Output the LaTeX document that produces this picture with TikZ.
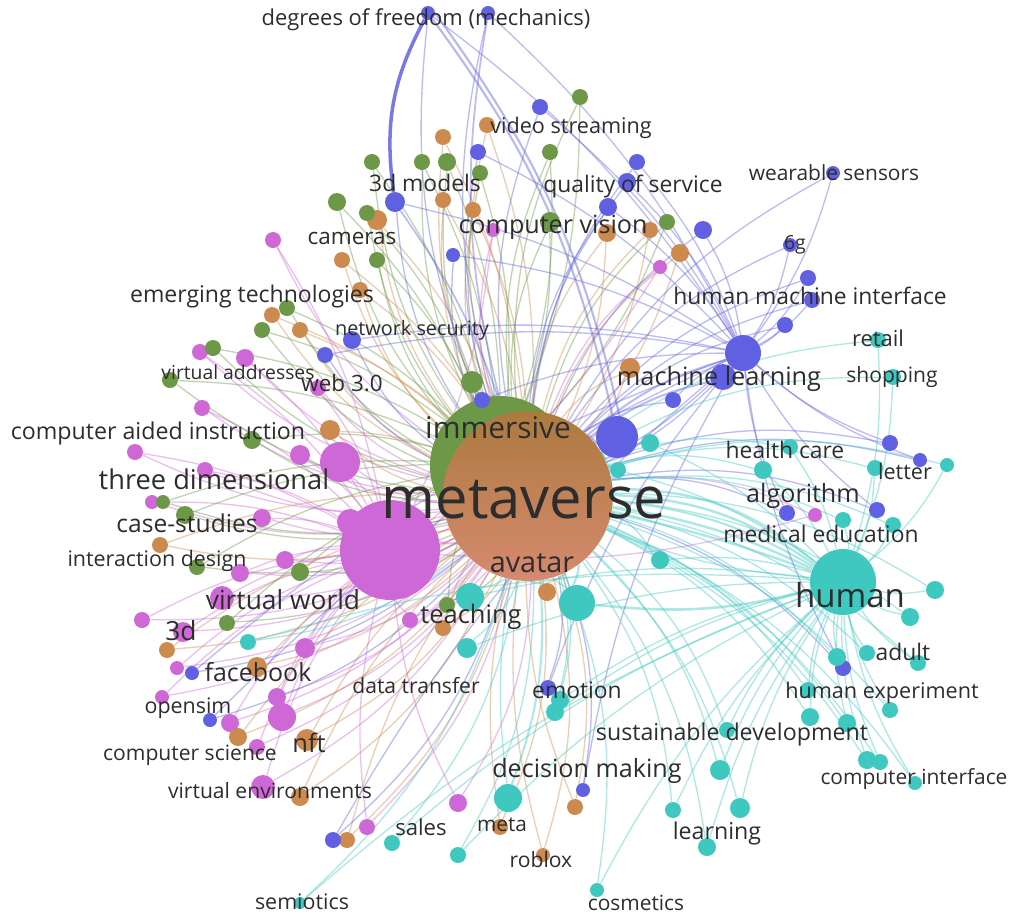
\documentclass[tikz,border=0pt]{standalone}
\usepackage{fontspec}
\setmainfont{Open Sans}
\usetikzlibrary{positioning}
\pgfdeclarelayer{background}
\pgfsetlayers{background,main}

\definecolor{pk}{RGB}{206,104,214}
\definecolor{or}{RGB}{205,138,78}
\definecolor{gr}{RGB}{108,152,72}
\definecolor{bl}{RGB}{96,96,226}
\definecolor{cy}{RGB}{62,200,192}
\definecolor{txt}{RGB}{45,45,45}

\tikzset{
  dot/.style={circle, fill=#1, inner sep=0pt},
  link/.style={draw=#1, opacity=0.42, line width=0.75pt},
  lab/.style={font=\fontsize{#1}{#1}\selectfont, text=txt, inner sep=0pt}
}

\begin{document}
\begin{tikzpicture}[x=0.02cm, y=-0.02cm]
\useasboundingbox (0,0) rectangle (1012,914);

% big clusters
\node[dot=gr, minimum size=2.8cm] (im) at (500,466) {};
\node[dot=pk, minimum size=2cm] (pw) at (390,550) {};
\node[circle, inner sep=0pt, minimum size=3.4cm, top color={rgb,255:red,172;green,122;blue,62}, bottom color={rgb,255:red,214;green,138;blue,112}] (mv) at (528,496) {};
\node[dot=bl, minimum size=0.84cm] (bh) at (617,437) {};
\node[dot=bl, minimum size=0.72cm] (ml) at (743,353) {};
\node[dot=bl, minimum size=0.52cm] (ml2) at (723,377) {};
\node[dot=cy, minimum size=1.32cm] (hu) at (843,582) {};
\node[dot=cy, minimum size=0.72cm] (tc) at (577,603) {};
\node[dot=cy, minimum size=0.56cm] (dm) at (508,798) {};

\begin{pgfonlayer}{background}
\foreach \h/\c in {bh/bl, ml/bl, ml2/bl, hu/cy, tc/cy, dm/cy, pw/pk, im/gr}{
  \draw[link=\c, line width=1.2pt] (mv) to[bend left=12] (\h);
  \draw[link=\c] (mv) to[bend right=8] (\h);
}
\foreach \a in {4,8,16,20}
  \draw[link=cy, line width=1.4pt] (mv) to[bend left=\a] (hu);
\draw[link=cy, line width=1.5pt] (tc) to[bend right=10] (hu);
\end{pgfonlayer}

% pink
\foreach \n/\x/\y/\r in {p1/273/240/8, p2/200/352/8, p3/245/358/9, p4/202/408/8, p5/135/452/8,
  p6/152/502/7, p7/240/573/9, p8/142/620/8, p9/183/632/10, p10/177/668/7, p11/162/697/7,
  p12/230/723/9, p13/282/717/14, p14/277/697/9, p15/257/747/8, p16/263/787/12, p17/458/803/9,
  p18/367/827/8, p19/410/620/8, p20/493/230/7, p21/660/267/7, p22/340/462/20, p23/300/455/10,
  p24/262/518/9, p25/222/598/12, p26/305/648/10, p27/350/522/13, p28/815/515/7, p29/318/388/8,
  p30/205/470/8, p31/285/560/9}{
  \node[dot=pk, minimum size=\r*0.04cm] (\n) at (\x,\y) {};
  \begin{pgfonlayer}{background}
    \draw[link=pk] (mv) to[bend left=15] (\n);
    \draw[link=pk] (pw) to[bend right=10] (\n);
  \end{pgfonlayer}
}

% orange
\foreach \n/\x/\y/\r in {o1/272/315/8, o2/160/545/8, o3/167/650/8, o4/257/667/10, o5/238/737/9,
  o6/307/740/11, o7/300/797/9, o8/347/840/8, o9/500/827/8, o10/543/855/7, o11/443/628/8,
  o12/575/807/8, o13/487/125/8, o14/443/137/8, o15/377/220/10, o16/443/200/8, o17/473/210/8,
  o18/607/233/9, o19/650/230/8, o20/680/253/9, o21/342/260/8, o22/630/368/10, o23/330/430/10,
  o24/547/592/9, o25/300/330/8, o26/360/290/8}{
  \node[dot=or, minimum size=\r*0.04cm] (\n) at (\x,\y) {};
  \begin{pgfonlayer}{background}
    \draw[link=or] (mv) to[bend left=15] (\n);
    \draw[link=or] (mv) to[bend right=10] (\n);
  \end{pgfonlayer}
}

% green
\foreach \n/\x/\y/\r in {g1/213/348/8, g2/170/380/8, g3/252/440/9, g4/163/502/7, g5/185/515/9,
  g6/197/567/8, g7/287/308/8, g8/227/623/8, g9/447/605/8, g10/580/97/8, g11/550/152/8,
  g12/372/162/8, g13/422/162/8, g14/447/162/9, g15/480/173/8, g16/337/202/9, g17/367/213/8,
  g18/550/222/10, g19/667/222/8, g20/377/260/8, g21/262/330/8, g22/472/382/11, g23/300/572/9}{
  \node[dot=gr, minimum size=\r*0.04cm] (\n) at (\x,\y) {};
  \begin{pgfonlayer}{background}
    \draw[link=gr] (mv) to[bend left=15] (\n);
    \draw[link=gr] (im) to[bend right=10] (\n);
  \end{pgfonlayer}
}

% blue
\foreach \n/\x/\y/\r in {b1/428/13/7, b2/488/13/7, b3/540/107/8, b4/478/152/8, b5/637/162/8,
  b6/395/202/10, b7/608/207/9, b8/627/182/9, b9/703/230/9, b10/453/255/7, b11/833/173/7,
  b12/790/245/7, b13/808/278/8, b14/812/300/8, b15/785/325/8, b16/673/400/8, b17/890/443/8,
  b18/920/460/7, b19/787/513/8, b20/877/510/8, b21/843/668/8, b22/583/790/7, b23/192/673/7,
  b24/210/720/7, b25/333/840/8, b26/352/340/9, b27/325/355/8, b28/548/688/8, b29/482/400/8}{
  \node[dot=bl, minimum size=\r*0.04cm] (\n) at (\x,\y) {};
  \begin{pgfonlayer}{background}
    \draw[link=bl] (mv) to[bend left=15] (\n);
    \draw[link=bl] (ml) to[bend right=10] (\n);
  \end{pgfonlayer}
}

% cyan
\foreach \n/\x/\y/\r in {c1/878/340/8, c2/893/377/8, c3/650/443/9, c4/790/447/8, c5/947/465/7,
  c6/875/468/8, c7/763/470/9, c8/843/520/8, c9/893/525/8, c10/660/560/9, c11/910/617/9,
  c12/918/663/8, c13/837/657/9, c14/867/653/8, c15/890/710/8, c16/810/717/9, c17/847/723/9,
  c18/867/760/9, c19/880/762/8, c20/915/783/7, c21/727/730/8, c22/720/770/10, c23/673/810/8,
  c24/740/808/10, c25/707/847/9, c26/597/890/7, c27/560/700/9, c28/248/642/8, c29/392/843/8,
  c30/458/855/8, c31/300/903/6, c32/467/648/10, c33/555/712/9, c34/470/597/14, c35/935/590/9,
  c36/808/690/8, c37/618/470/8}{
  \node[dot=cy, minimum size=\r*0.04cm] (\n) at (\x,\y) {};
  \begin{pgfonlayer}{background}
    \draw[link=cy] (mv) to[bend left=15] (\n);
    \draw[link=cy] (hu) to[bend right=10] (\n);
  \end{pgfonlayer}
}

% degrees of freedom links
\begin{pgfonlayer}{background}
  \draw[bl, opacity=0.85, line width=2pt] (b1) to[bend right=18] (b6);
  \draw[link=bl, line width=1pt] (b6) to[bend left=8] (mv);
  \draw[bl, opacity=0.45, line width=1.2pt] (b1) to[bend left=12] (bh);
  \draw[bl, opacity=0.45, line width=1.2pt] ([xshift=4pt]b1.center) to[bend left=12] ([xshift=4pt]bh.center);
  \draw[link=bl, line width=1pt] (b2) to[bend right=12] (mv);
\end{pgfonlayer}

% labels
\foreach \n/\x/\y/\s/\t in {ldf/426/20/12.5/degrees of freedom (mechanics),
  lvs/571/128/12.3/video streaming, lws/834/173/11.9/wearable sensors, l3m/425/183/13/3d models,
  lqs/633/186/13/quality of service, lcam/352/238/12.8/cameras, lcv/553/227/14.3/computer vision,
  l6g/795/245/11/6g, let/252/297/13.1/emerging technologies, lhmi/810/296/13/human machine interface,
  lns/412/330/11.3/network security, lret/878/338/12.5/retail, lva/238/372/11/virtual addresses,
  lml/719/379/14.4/machine learning, lsh/892/377/12/shopping, lweb/342/383/12.8/web 3.0,
  lcai/158/433/13.2/computer aided instruction, lim/498/428/17/immersive, lhc/785/450/13/health care,
  llet/905/471/12.3/letter, ltd/214/479/15.5/three dimensional, lmv/524/500/33/metaverse,
  lalg/803/496/14.3/algorithm, lcs/187/523/14/case-studies, lme/821/534/13/medical education,
  lid/157/561/12.2/interaction design, lav/532/563/16.4/avatar, lhu/850/595/18.8/human,
  lvw/283/600/15/virtual world, ltc/471/617/14.5/teaching, l3d/181/631/15/3d,
  lfb/258/672/14.2/facebook, lad/903/652/13/adult, ldt/416/686/12/data transfer,
  lem/577/690/13/emotion, lhe/882/693/12.3/human experiment, los/188/708/12.2/opensim,
  lnft/309/743/14.5/nft, lsd/732/734/13.2/sustainable development, lcsc/190/755/12/computer science,
  ldm/587/771/14.3/decision making, lci/914/779/11.9/computer interface,
  lve/270/791/12/virtual environments, lsal/421/827/12.6/sales, lmeta/502/825/11.8/meta,
  llrn/717/833/13.2/learning, lrob/541/860/12/roblox, lsem/302/902/12.2/semiotics,
  lcos/636/903/11.9/cosmetics}
  \node[lab=\s] (\n) at (\x,\y) {\t};
\end{tikzpicture}
\end{document}
